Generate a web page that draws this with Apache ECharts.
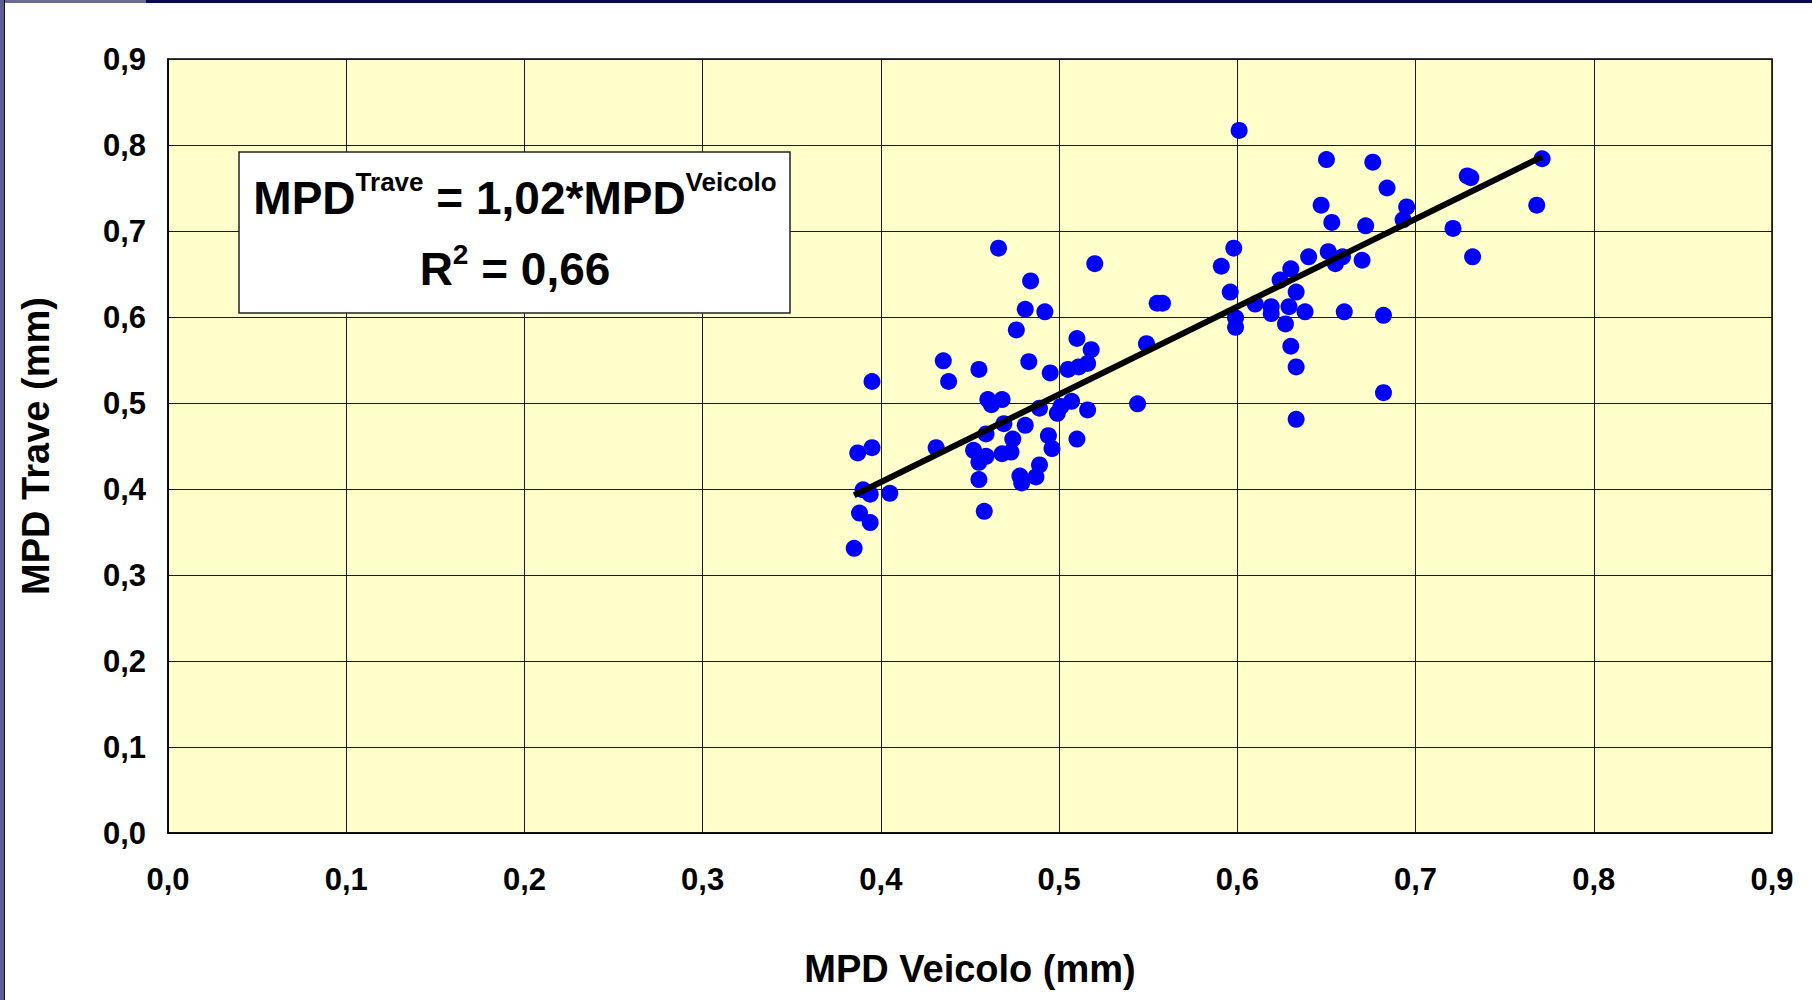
<!DOCTYPE html>
<html>
<head>
<meta charset="utf-8">
<title>MPD Veicolo vs MPD Trave</title>
<script src="https://cdn.jsdelivr.net/npm/echarts@6/dist/echarts.min.js"></script>
<style>
  html, body { margin: 0; padding: 0; background: #ffffff; }
  #chart { width: 1812px; height: 1000px; }
</style>
</head>
<body>
<div id="chart"></div>
<script>
// Measured MPD values (mm): vehicle-mounted profilometer vs reference beam
const mpdVeicolo = [
  0.395, 0.435, 0.438, 0.387, 0.395, 0.431, 0.390, 0.394, 0.405, 0.388,
  0.394, 0.385, 0.466, 0.484, 0.481, 0.492, 0.476, 0.510, 0.518, 0.455,
  0.483, 0.495, 0.505, 0.511, 0.516, 0.460, 0.462, 0.468, 0.489, 0.499,
  0.501, 0.507, 0.516, 0.469, 0.481, 0.459, 0.474, 0.494, 0.496, 0.510,
  0.452, 0.459, 0.455, 0.468, 0.473, 0.455, 0.478, 0.479, 0.489, 0.487,
  0.458, 0.520, 0.598, 0.591, 0.596, 0.640, 0.651, 0.655, 0.659, 0.630,
  0.624, 0.633, 0.610, 0.619, 0.619, 0.629, 0.638, 0.627, 0.599, 0.599,
  0.555, 0.558, 0.660, 0.630, 0.633, 0.633, 0.549, 0.544, 0.647, 0.695,
  0.693, 0.653, 0.672, 0.670, 0.682, 0.650, 0.676, 0.684, 0.729, 0.731,
  0.771, 0.768, 0.721, 0.732, 0.682, 0.601
];
const mpdTrave = [
  0.525, 0.549, 0.525, 0.442, 0.448, 0.448, 0.399, 0.394, 0.395, 0.372,
  0.361, 0.331, 0.680, 0.642, 0.609, 0.606, 0.585, 0.575, 0.562, 0.539,
  0.548, 0.535, 0.539, 0.542, 0.546, 0.504, 0.498, 0.504, 0.494, 0.488,
  0.496, 0.502, 0.492, 0.476, 0.474, 0.464, 0.458, 0.462, 0.447, 0.458,
  0.445, 0.438, 0.431, 0.441, 0.443, 0.411, 0.415, 0.407, 0.428, 0.414,
  0.374, 0.662, 0.680, 0.659, 0.629, 0.670, 0.676, 0.662, 0.670, 0.656,
  0.643, 0.629, 0.615, 0.612, 0.604, 0.612, 0.606, 0.592, 0.599, 0.588,
  0.616, 0.616, 0.606, 0.566, 0.542, 0.481, 0.569, 0.499, 0.730, 0.728,
  0.713, 0.710, 0.706, 0.666, 0.602, 0.783, 0.780, 0.750, 0.764, 0.762,
  0.784, 0.730, 0.703, 0.670, 0.512, 0.817
];

// Regression through the origin: MPD Trave = slope * MPD Veicolo
const slope = 1.02;
const slopeText = '1,02';
const r2Text = '0,66';

// Axis range shared by both axes
const axisMin = 0;
const axisMax = 0.9;
const axisStep = 0.1;

const xAxisTitle = 'MPD Veicolo (mm)';
const yAxisTitle = 'MPD Trave (mm)';

const FONT = '"Liberation Sans", Arial, Helvetica, sans-serif';

const points = mpdVeicolo.map((x, i) => [x, mpdTrave[i]]);
const xLo = Math.min(...mpdVeicolo);
const xHi = Math.max(...mpdVeicolo);
const trend = [[xLo, slope * xLo], [xHi, slope * xHi]];

const commaFmt = v => v.toFixed(1).replace('.', ',');

const tickLabel = {
  color: '#000',
  fontFamily: FONT,
  fontWeight: 'bold',
  fontSize: 31,
  formatter: commaFmt
};

const chart = echarts.init(document.getElementById('chart'), null, { renderer: 'svg' });

chart.setOption({
  backgroundColor: '#ffffff',
  animation: false,
  grid: {
    left: 168, right: 40, top: 59, bottom: 167,
    show: true,
    backgroundColor: '#FFFFCC',
    borderColor: '#000',
    borderWidth: 1.5
  },
  xAxis: {
    type: 'value',
    min: axisMin, max: axisMax, interval: axisStep,
    name: xAxisTitle,
    nameLocation: 'middle',
    nameGap: 117,
    nameTextStyle: { color: '#000', fontFamily: FONT, fontWeight: 'bold', fontSize: 38 },
    axisLine: { show: true, lineStyle: { color: '#000', width: 1.5 } },
    axisTick: { show: false },
    axisLabel: Object.assign({ margin: 31 }, tickLabel),
    splitLine: { show: true, lineStyle: { color: '#1a1a1a', width: 1 } }
  },
  yAxis: {
    type: 'value',
    min: axisMin, max: axisMax, interval: axisStep,
    name: yAxisTitle,
    nameLocation: 'middle',
    nameGap: 113,
    nameTextStyle: { color: '#000', fontFamily: FONT, fontWeight: 'bold', fontSize: 38 },
    axisLine: { show: true, lineStyle: { color: '#000', width: 1.5 } },
    axisTick: { show: false },
    axisLabel: Object.assign({ margin: 22 }, tickLabel),
    splitLine: { show: true, lineStyle: { color: '#1a1a1a', width: 1 } }
  },
  series: [
    {
      name: 'MPD',
      type: 'scatter',
      data: points,
      symbol: 'circle',
      symbolSize: 17,
      itemStyle: { color: '#0000FF', opacity: 1 },
      z: 2
    },
    {
      name: 'Regressione',
      type: 'line',
      data: trend,
      showSymbol: false,
      symbol: 'none',
      lineStyle: { color: '#000', width: 6 },
      z: 3
    }
  ],
  graphic: [
    // slide frame: top band and left edge
    { type: 'rect', shape: { x: 0, y: 0, width: 1812, height: 3 }, style: { fill: '#0b0b50' }, silent: true },
    { type: 'rect', shape: { x: 0, y: 0, width: 146, height: 3 }, style: { fill: '#6b6b98' }, silent: true },
    { type: 'rect', shape: { x: 0, y: 0, width: 4, height: 1000 }, style: { fill: '#5e5e8e' }, silent: true },
    { type: 'line', shape: { x1: 4.5, y1: 0, x2: 4.5, y2: 1000 }, style: { stroke: '#111', lineWidth: 1 }, silent: true },
    // equation box
    {
      type: 'rect',
      shape: { x: 239, y: 152, width: 551, height: 161 },
      style: { fill: '#ffffff', stroke: '#222', lineWidth: 1.5 },
      z: 100
    },
    {
      type: 'text',
      x: 515, y: 195,
      z: 101,
      style: {
        text: '{m|MPD}{s|Trave}{m| = ' + slopeText + '*MPD}{s|Veicolo}',
        align: 'center',
        verticalAlign: 'middle',
        fill: '#000',
        rich: {
          m: { fontFamily: FONT, fontWeight: 'bold', fontSize: 46, lineHeight: 52, verticalAlign: 'bottom', fill: '#000' },
          s: { fontFamily: FONT, fontWeight: 'bold', fontSize: 26, lineHeight: 30, verticalAlign: 'top', fill: '#000' }
        }
      }
    },
    {
      type: 'text',
      x: 515, y: 266,
      z: 101,
      style: {
        text: '{m|R}{s|2}{m| = ' + r2Text + '}',
        align: 'center',
        verticalAlign: 'middle',
        fill: '#000',
        rich: {
          m: { fontFamily: FONT, fontWeight: 'bold', fontSize: 46, lineHeight: 52, verticalAlign: 'bottom', fill: '#000' },
          s: { fontFamily: FONT, fontWeight: 'bold', fontSize: 28, lineHeight: 30, verticalAlign: 'top', fill: '#000' }
        }
      }
    }
  ]
});
</script>
</body>
</html>
